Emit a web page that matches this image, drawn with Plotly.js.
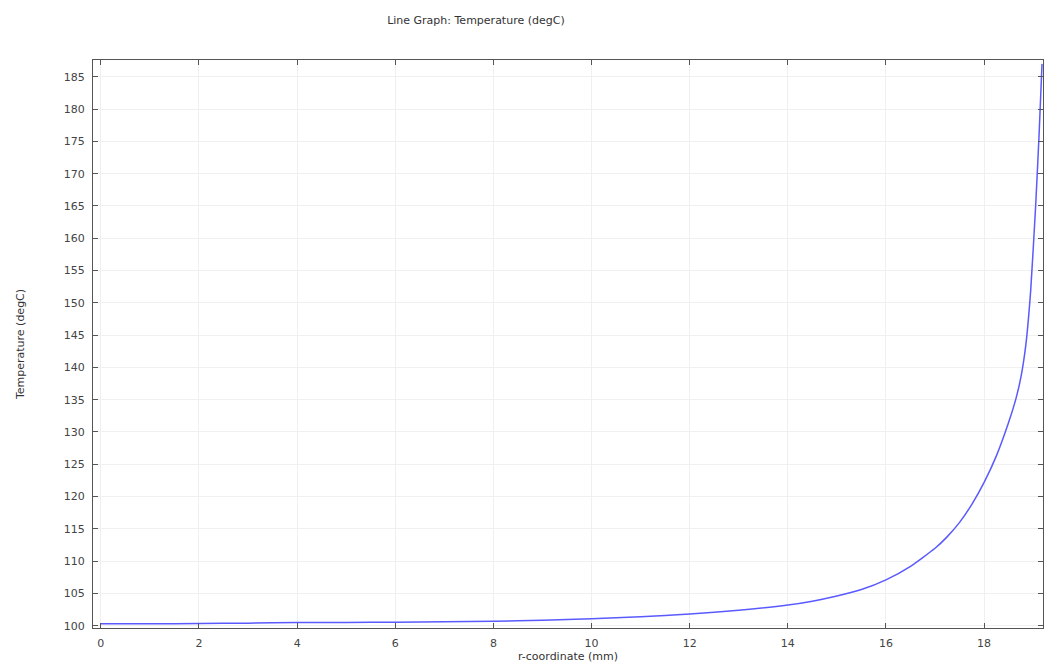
<!DOCTYPE html>
<html>
<head>
<meta charset="utf-8">
<script src="https://cdn.plot.ly/plotly-3.0.1.min.js"></script>
<style>html,body{margin:0;padding:0;background:#fff;}#chart{width:1046px;height:668px;}</style>
</head>
<body>
<div id="chart"></div>
<script>
const rCoord = [0, 1, 2, 3, 4, 5, 6, 7, 8, 9, 10, 11, 12, 13, 14, 14.5, 15, 15.5, 16, 16.5, 17, 17.25, 17.5, 17.75, 18, 18.25, 18.5, 18.65, 18.75, 18.85, 18.95, 19.05, 19.12, 19.18];
const temperature = [100.3, 100.3, 100.35, 100.4, 100.5, 100.5, 100.55, 100.6, 100.7, 100.85, 101.1, 101.4, 101.8, 102.4, 103.2, 103.8, 104.6, 105.6, 107.1, 109.2, 112.0, 113.8, 116.0, 118.8, 122.2, 126.3, 131.5, 135.2, 138.5, 143.5, 152, 165, 176, 187];
const xTicks = [0, 2, 4, 6, 8, 10, 12, 14, 16, 18];
const yTicks = [100, 105, 110, 115, 120, 125, 130, 135, 140, 145, 150, 155, 160, 165, 170, 175, 180, 185];

const axisCommon = {
  showline: true, linecolor: '#555', linewidth: 1, mirror: 'ticks',
  ticks: 'inside', ticklen: 5, tickcolor: '#555',
  showgrid: true, gridcolor: '#f0f0f0', gridwidth: 1,
  zeroline: false, ticklabelstandoff: 5,
  tickfont: {family: 'DejaVu Sans', size: 11, color: '#444'}
};

Plotly.newPlot('chart', [{
  x: rCoord, y: temperature, type: 'scatter', mode: 'lines',
  line: {color: 'rgb(90,90,255)', width: 1.5, shape: 'spline', smoothing: 0.5},
  hoverinfo: 'x+y'
}], {
  width: 1046, height: 668,
  margin: {l: 93, r: 3, t: 60, b: 40},
  paper_bgcolor: '#fff', plot_bgcolor: '#fff',
  showlegend: false,
  title: {text: 'Line Graph: Temperature (degC)', x: 0.455, xanchor: 'center', y: 0.97, yanchor: 'middle',
          font: {family: 'DejaVu Sans', size: 11, color: '#333'}},
  xaxis: Object.assign({}, axisCommon, {
    range: [-0.16, 19.2], tickvals: xTicks, ticktext: xTicks.map(String),
    title: {text: 'r-coordinate (mm)', standoff: 2, font: {family: 'DejaVu Sans', size: 11, color: '#333'}}
  }),
  yaxis: Object.assign({}, axisCommon, {
    range: [99.65, 187.6], tickvals: yTicks, ticktext: yTicks.map(String),
    title: {text: 'Temperature (degC)', standoff: 36, font: {family: 'DejaVu Sans', size: 11, color: '#333'}}
  })
}, {displayModeBar: false, staticPlot: true});
</script>
</body>
</html>
